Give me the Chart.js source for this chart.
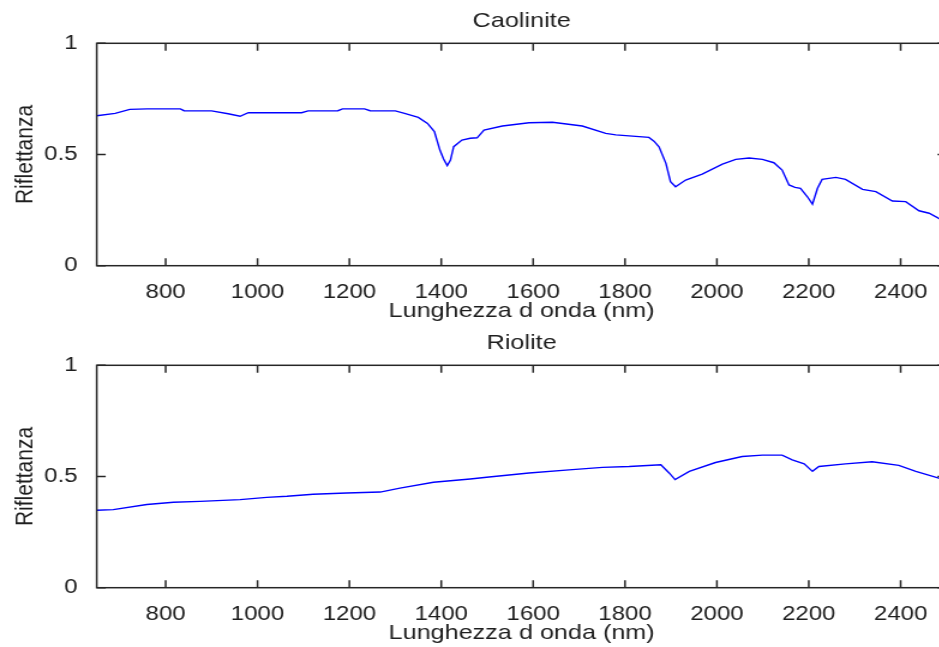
<!DOCTYPE html>
<html>
<head>
<meta charset="utf-8">
<script src="https://cdn.jsdelivr.net/npm/chart.js@4.4.1/dist/chart.umd.min.js"></script>
<style>
    html, body { margin: 0; padding: 0; background: #ffffff; overflow: hidden; }
    body { width: 939px; height: 647px; position: relative; }
    canvas { position: absolute; left: 0; }
</style>
</head>
<body>
<!-- drawn at 800 px and shown 1.2x wider -->
<canvas id="chart1" width="800" height="322" style="top:0px;width:960px;height:322px;"></canvas>
<canvas id="chart2" width="800" height="322" style="top:322px;width:960px;height:322px;"></canvas>
<script>
// spectra: wavelength (nm) and reflectance
var caoliniteNm = [650, 690, 722, 760, 832, 840, 900, 936, 962, 980, 1096, 1110, 1175, 1185, 1233, 1245, 1300, 1320, 1350, 1370,
    1385, 1397, 1405, 1413, 1420, 1427, 1445, 1463, 1478, 1493, 1533, 1591, 1642, 1707, 1758, 1780, 1852, 1863, 1874, 1889,
    1899, 1910, 1932, 1968, 2012, 2041, 2070, 2099, 2124, 2142, 2157, 2170, 2182, 2197, 2208, 2219, 2229, 2259, 2280, 2317,
    2346, 2382, 2411, 2440, 2462, 2483, 2500];
var caoliniteR = [0.674, 0.685, 0.703, 0.705, 0.705, 0.697, 0.696, 0.683, 0.672, 0.688, 0.688, 0.696, 0.697, 0.705, 0.705, 0.697, 0.696, 0.685, 0.667, 0.640,
    0.603, 0.520, 0.480, 0.450, 0.475, 0.535, 0.565, 0.573, 0.575, 0.610, 0.628, 0.643, 0.645, 0.628, 0.595, 0.588, 0.577, 0.560, 0.535, 0.460,
    0.378, 0.355, 0.385, 0.412, 0.457, 0.478, 0.484, 0.478, 0.463, 0.430, 0.363, 0.352, 0.348, 0.310, 0.277, 0.348, 0.388, 0.397, 0.388, 0.343,
    0.333, 0.291, 0.288, 0.247, 0.236, 0.213, 0.200];

var rioliteNm = [650, 686, 759, 817, 875, 962, 1020, 1064, 1121, 1194, 1267, 1310, 1383, 1463, 1504, 1591, 1678, 1751, 1809, 1878,
    1896, 1909, 1940, 1997, 2055, 2099, 2142, 2164, 2190, 2208, 2222, 2280, 2338, 2396, 2433, 2483, 2500];
var rioliteR = [0.348, 0.351, 0.374, 0.384, 0.388, 0.396, 0.406, 0.411, 0.420, 0.426, 0.430, 0.448, 0.474, 0.489, 0.498, 0.516, 0.530, 0.541, 0.545, 0.553,
    0.516, 0.486, 0.523, 0.563, 0.590, 0.596, 0.596, 0.575, 0.557, 0.523, 0.545, 0.557, 0.566, 0.550, 0.523, 0.493, 0.485];

var xTicks = [800, 1000, 1200, 1400, 1600, 1800, 2000, 2200, 2400];
var yTicks = [0, 0.5, 1];
var xRange = [650, 2500];
var yRange = [0, 1];

Chart.defaults.font.family = '"Liberation Sans", Arial, sans-serif';
Chart.defaults.font.size = 20;
Chart.defaults.color = '#1e1e1e';

var tickLen = 7.5;

// box around the axes with inward ticks on all four sides
const boxPlugin = {
    id: 'axes_box',
    afterDatasetsDraw: (chart) => {
        const ctx = chart.ctx;
        const a = chart.chartArea;
        const xs = chart.scales.x;
        const ys = chart.scales.y;
        ctx.save();
        ctx.strokeStyle = '#262626';
        ctx.lineWidth = 1.5;
        ctx.strokeRect(a.left, a.top, a.right - a.left, a.bottom - a.top);
        ctx.beginPath();
        xs.ticks.forEach(function (t) {
            var px = xs.getPixelForValue(t.value);
            ctx.moveTo(px, a.bottom);
            ctx.lineTo(px, a.bottom - tickLen);
            ctx.moveTo(px, a.top);
            ctx.lineTo(px, a.top + tickLen);
        });
        ys.ticks.forEach(function (t) {
            var py = ys.getPixelForValue(t.value);
            ctx.moveTo(a.left, py);
            ctx.lineTo(a.left + tickLen, py);
            ctx.moveTo(a.right, py);
            ctx.lineTo(a.right - tickLen, py);
        });
        ctx.stroke();
        ctx.restore();
    }
};

function toPoints(xs, ys) {
    var pts = [];
    for (var i = 0; i < xs.length; i++) {
        pts.push({x: xs[i], y: ys[i]});
    }
    return pts;
}

function createChart(id, title, nm, refl) {
    var ctx = document.getElementById(id).getContext('2d');
    return new Chart(ctx, {
        type: 'line',
        data: {
            datasets: [{
                label: title,
                data: toPoints(nm, refl),
                borderColor: '#0000ff',
                borderWidth: 1.4,
                pointRadius: 0,
                tension: 0,
                fill: false
            }]
        },
        options: {
            responsive: false,
            animation: false,
            devicePixelRatio: 1,
            layout: {
                padding: {left: 0, right: 11.2, top: 0, bottom: 0}
            },
            scales: {
                x: {
                    type: 'linear',
                    min: xRange[0],
                    max: xRange[1],
                    afterBuildTicks: (s) => { s.ticks = xTicks.map(v => ({value: v})); },
                    afterFit: (s) => { s.height = 56.3; },
                    grid: {display: false},
                    border: {display: false},
                    ticks: {
                        padding: 7,
                        maxRotation: 0,
                        callback: (v) => String(v)
                    },
                    title: {
                        display: true,
                        text: 'Lunghezza d onda (nm)',
                        padding: {top: 0, bottom: -2},
                        font: {size: 21}
                    }
                },
                y: {
                    min: yRange[0],
                    max: yRange[1],
                    afterBuildTicks: (s) => { s.ticks = yTicks.map(v => ({value: v})); },
                    afterFit: (s) => { s.width = 80.6; },
                    grid: {display: false},
                    border: {display: false},
                    ticks: {
                        padding: 8,
                        callback: (v) => String(v)
                    },
                    title: {
                        display: true,
                        text: 'Riflettanza',
                        padding: {top: 8.7, bottom: 0},
                        font: {size: 21}
                    }
                }
            },
            plugins: {
                legend: {display: false},
                tooltip: {enabled: false},
                title: {
                    display: true,
                    text: title,
                    fullSize: false, // centre over the plot box, not the canvas
                    font: {size: 21, weight: 'normal'},
                    padding: {top: 8.2, bottom: 9.9}
                }
            }
        },
        plugins: [boxPlugin]
    });
}

createChart('chart1', 'Caolinite', caoliniteNm, caoliniteR);
createChart('chart2', 'Riolite', rioliteNm, rioliteR);
</script>
</body>
</html>
